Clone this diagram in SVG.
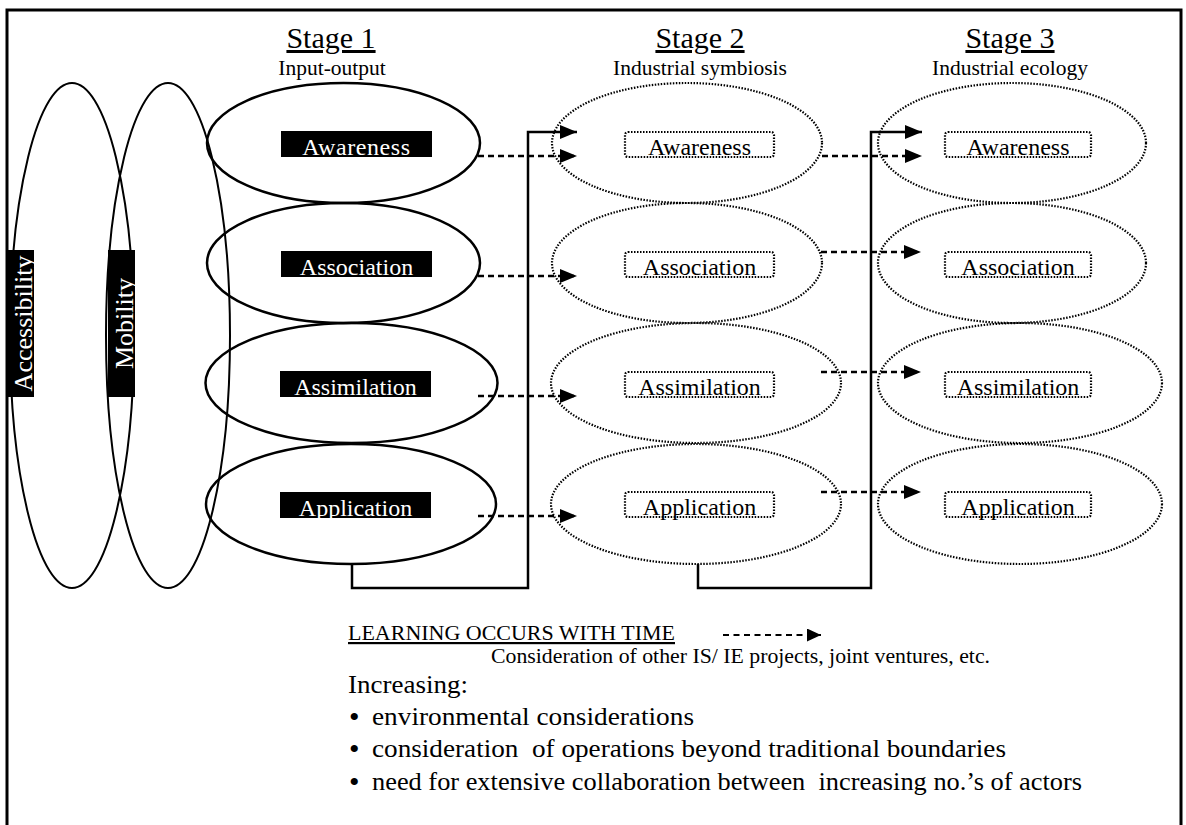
<svg xmlns="http://www.w3.org/2000/svg" width="1186" height="825" viewBox="0 0 1186 825">
  <defs>
    <marker id="arrow" viewBox="0 0 17 14" refX="17" refY="7" markerWidth="17" markerHeight="14" markerUnits="userSpaceOnUse" orient="auto">
      <path d="M0,0 L17,7 L0,14 Z" fill="#000"/>
    </marker>
    <marker id="arrow-sm" viewBox="0 0 14 13" refX="14" refY="6.5" markerWidth="14" markerHeight="13" markerUnits="userSpaceOnUse" orient="auto">
      <path d="M0,0 L14,6.5 L0,13 Z" fill="#000"/>
    </marker>
  </defs>
  <style>
    text { font-family: "Liberation Serif", "Times New Roman", serif; fill: #000; }
    .title { font-size: 30px; text-anchor: middle; text-decoration: underline; }
    .sub { font-size: 21.5px; text-anchor: middle; }
    .solid { fill: none; stroke: #000; stroke-width: 2.5; }
    .side { fill: none; stroke: #000; stroke-width: 2; }
    .dotted { fill: none; stroke: #000; stroke-width: 2.2; stroke-dasharray: 1.5 1.5; }
    .blackbox { fill: #000; }
    .dotbox { fill: none; stroke: #000; stroke-width: 2.2; stroke-dasharray: 1.5 1.5; }
    .wlabel { font-size: 24px; fill: #fff; text-anchor: middle; }
    .blabel { font-size: 24px; text-anchor: middle; }
    .vlabel { font-size: 26px; fill: #fff; text-anchor: middle; }
    .dash { fill: none; stroke: #000; stroke-width: 2.5; stroke-dasharray: 6 4; }
    .link { fill: none; stroke: #000; stroke-width: 2.5; }
    .note { font-size: 26px; white-space: pre; }
    .bullet { font-size: 30px; }
  </style>

  <!-- outer frame -->
  <rect x="7" y="10" width="1174" height="830" fill="#fff" stroke="#000" stroke-width="3"/>

  <!-- stage headings -->
  <g id="stage1-heading">
    <text class="title" x="331" y="48">Stage 1</text>
    <text class="sub" x="332" y="75">Input-output</text>
  </g>
  <g id="stage2-heading">
    <text class="title" x="700" y="48">Stage 2</text>
    <text class="sub" x="700" y="75">Industrial symbiosis</text>
  </g>
  <g id="stage3-heading">
    <text class="title" x="1010" y="48">Stage 3</text>
    <text class="sub" x="1010" y="75">Industrial ecology</text>
  </g>

  <!-- accessibility / mobility loops -->
  <g id="accessibility">
    <ellipse class="side" cx="72" cy="335.5" rx="62" ry="252.5"/>
    <rect class="blackbox" x="8" y="250" width="26" height="147"/>
    <text class="vlabel" transform="translate(32 323.5) rotate(-90)">Accessibility</text>
  </g>
  <g id="mobility">
    <ellipse class="side" cx="168" cy="335.5" rx="62" ry="252.5"/>
    <rect class="blackbox" x="108" y="250" width="27" height="147"/>
    <text class="vlabel" transform="translate(133 323.5) rotate(-90)">Mobility</text>
  </g>

  <!-- stage 1: input-output -->
  <g id="s1-awareness">
    <ellipse class="solid" cx="343.5" cy="143" rx="136.5" ry="60"/>
    <rect class="blackbox" x="281" y="131" width="151" height="26"/>
    <text class="wlabel" x="356.5" y="155" letter-spacing="0.6">Awareness</text>
  </g>
  <g id="s1-association">
    <ellipse class="solid" cx="343.5" cy="263" rx="136.5" ry="60"/>
    <rect class="blackbox" x="281" y="251" width="151" height="26"/>
    <text class="wlabel" x="356.5" y="275">Association</text>
  </g>
  <g id="s1-assimilation">
    <ellipse class="solid" cx="351.5" cy="383" rx="146" ry="60"/>
    <rect class="blackbox" x="280" y="371" width="151" height="26"/>
    <text class="wlabel" x="355.5" y="395">Assimilation</text>
  </g>
  <g id="s1-application">
    <ellipse class="solid" cx="351" cy="504" rx="145" ry="60"/>
    <rect class="blackbox" x="280" y="492" width="151" height="26"/>
    <text class="wlabel" x="355.5" y="516">Application</text>
  </g>

  <!-- stage 2: industrial symbiosis -->
  <g id="s2-awareness">
    <ellipse class="dotted" cx="687" cy="143" rx="135" ry="60"/>
    <rect class="dotbox" x="625" y="132" width="149" height="25" rx="3"/>
    <text class="blabel" x="699.5" y="155">Awareness</text>
  </g>
  <g id="s2-association">
    <ellipse class="dotted" cx="687" cy="263" rx="135" ry="60"/>
    <rect class="dotbox" x="625" y="252" width="149" height="25" rx="3"/>
    <text class="blabel" x="699.5" y="275">Association</text>
  </g>
  <g id="s2-assimilation">
    <ellipse class="dotted" cx="696" cy="383" rx="145" ry="60"/>
    <rect class="dotbox" x="625" y="372" width="149" height="25" rx="3"/>
    <text class="blabel" x="699.5" y="395">Assimilation</text>
  </g>
  <g id="s2-application">
    <ellipse class="dotted" cx="696" cy="504" rx="145" ry="60"/>
    <rect class="dotbox" x="625" y="492" width="149" height="25" rx="3"/>
    <text class="blabel" x="699.5" y="515">Application</text>
  </g>

  <!-- stage 3: industrial ecology -->
  <g id="s3-awareness">
    <ellipse class="dotted" cx="1012" cy="143" rx="134" ry="60"/>
    <rect class="dotbox" x="945" y="132" width="146" height="25" rx="3"/>
    <text class="blabel" x="1018" y="155">Awareness</text>
  </g>
  <g id="s3-association">
    <ellipse class="dotted" cx="1012" cy="263" rx="134" ry="60"/>
    <rect class="dotbox" x="945" y="252" width="146" height="25" rx="3"/>
    <text class="blabel" x="1018" y="275">Association</text>
  </g>
  <g id="s3-assimilation">
    <ellipse class="dotted" cx="1020" cy="383" rx="142" ry="60"/>
    <rect class="dotbox" x="945" y="372" width="146" height="25" rx="3"/>
    <text class="blabel" x="1018" y="395">Assimilation</text>
  </g>
  <g id="s3-application">
    <ellipse class="dotted" cx="1020" cy="504" rx="142" ry="60"/>
    <rect class="dotbox" x="945" y="492" width="146" height="25" rx="3"/>
    <text class="blabel" x="1018" y="515">Application</text>
  </g>

  <!-- connectors -->
  <g id="connectors">
    <!-- stage 1 to stage 2 -->
    <line class="dash" x1="478" y1="156" x2="577" y2="156" marker-end="url(#arrow)"/>
    <line class="dash" x1="478" y1="276" x2="577" y2="276" marker-end="url(#arrow)"/>
    <line class="dash" x1="478" y1="396" x2="577" y2="396" marker-end="url(#arrow)"/>
    <line class="dash" x1="478" y1="516" x2="577" y2="516" marker-end="url(#arrow)"/>
    <path class="link" d="M352,564 V588 H528 V132 H577" marker-end="url(#arrow)"/>
    <!-- stage 2 to stage 3 -->
    <line class="dash" x1="822" y1="156" x2="922" y2="156" marker-end="url(#arrow)"/>
    <line class="dash" x1="821" y1="252" x2="921" y2="252" marker-end="url(#arrow)"/>
    <line class="dash" x1="821" y1="372" x2="921" y2="372" marker-end="url(#arrow)"/>
    <line class="dash" x1="821" y1="492" x2="921" y2="492" marker-end="url(#arrow)"/>
    <path class="link" d="M698,564 V588 H871 V132 H922" marker-end="url(#arrow)"/>
  </g>

  <!-- legend and notes -->
  <g id="legend">
    <text x="348" y="640" font-size="22" text-decoration="underline" textLength="327" lengthAdjust="spacingAndGlyphs">LEARNING OCCURS WITH TIME</text>
    <line x1="723" y1="635" x2="821" y2="635" stroke="#000" stroke-width="2.2" stroke-dasharray="6 4.5" marker-end="url(#arrow-sm)"/>
    <text x="491" y="663" font-size="20" textLength="499" lengthAdjust="spacingAndGlyphs">Consideration of other IS/ IE projects, joint ventures, etc.</text>
  </g>
  <g id="notes">
    <text class="note" x="348" y="693" textLength="120" lengthAdjust="spacingAndGlyphs">Increasing:</text>
    <text class="bullet" x="349" y="727">•</text>
    <text class="note" x="372" y="725" textLength="322" lengthAdjust="spacingAndGlyphs">environmental considerations</text>
    <text class="bullet" x="349" y="759">•</text>
    <text class="note" x="372" y="757" textLength="634" lengthAdjust="spacingAndGlyphs">consideration  of operations beyond traditional boundaries</text>
    <text class="bullet" x="349" y="792">•</text>
    <text class="note" x="372" y="790" textLength="710" lengthAdjust="spacingAndGlyphs">need for extensive collaboration between  increasing no.’s of actors</text>
  </g>
</svg>
